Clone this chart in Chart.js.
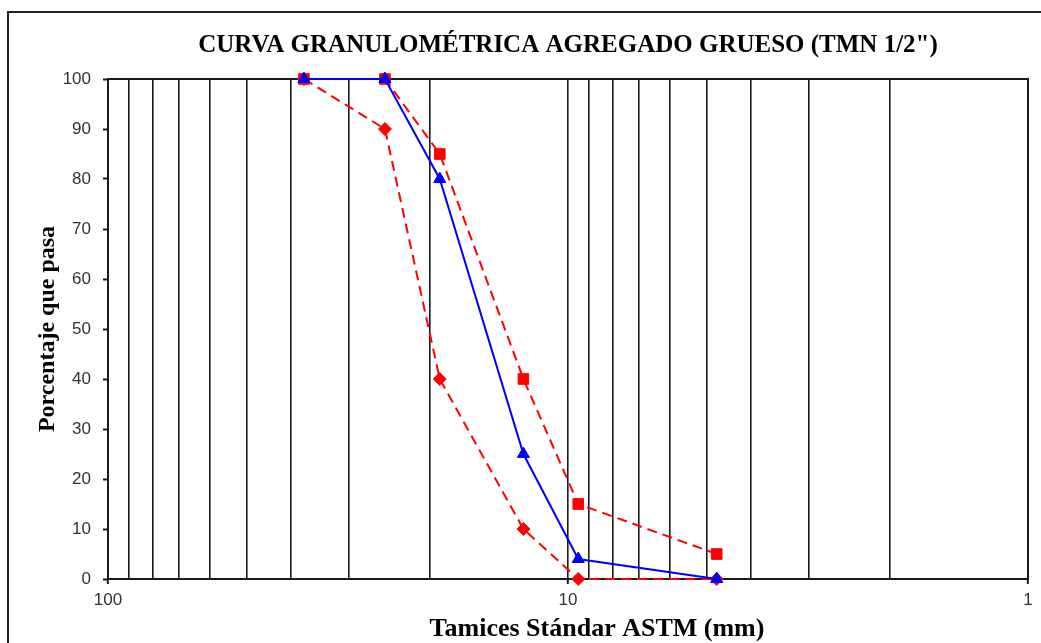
<!DOCTYPE html>
<html>
<head>
<meta charset="utf-8">
<title>Curva granulométrica</title>
<script src="https://cdn.jsdelivr.net/npm/chart.js@4.4.1/dist/chart.umd.min.js"></script>
<style>
  html, body { margin: 0; padding: 0; background: #fff; overflow: hidden; }
  #wrap { position: relative; width: 1041px; height: 643px; overflow: hidden; }
  #frame { position: absolute; left: 7px; top: 11px; width: 1100px; height: 700px; border: 2px solid #222; }
  #chart { position: absolute; left: 0; top: 0; }
</style>
</head>
<body>
<div id="wrap">
  <div id="frame"></div>
  <canvas id="chart" width="1041" height="643"></canvas>
</div>
<script>
// sieve openings (mm) and % passing
const sieveSizes = [37.5, 25, 19, 12.5, 9.5, 4.75];
const sample     = [100, 100, 80, 25, 4, 0];
const upperLimit = [100, 100, 85, 40, 15, 5];
const lowerLimit = [100, 90, 40, 10, 0, 0];
// log grid: 1..10 and 10..100, only the decades get a label
const xGridValues = [1, 2, 3, 4, 5, 6, 7, 8, 9, 10, 20, 30, 40, 50, 60, 70, 80, 90, 100];
const xLabels    = [100, 10, 1];
const yMin = 0, yMax = 100, yStep = 10;

const SERIF = '"Liberation Serif", "Times New Roman", serif';
const SANS = '"Liberation Sans", Arial, sans-serif';
const INK = '#1a1a1a';

const pts = (vals) => sieveSizes.map((x, i) => ({ x, y: vals[i] }));

// plot box + x axis caption (offset right of centre like the original)
const framePlugin = {
  id: 'frame',
  beforeDatasetsDraw(chart) {
    const { ctx, chartArea: a } = chart;
    ctx.save();
    ctx.strokeStyle = INK;
    ctx.lineWidth = 2;
    ctx.strokeRect(a.left, a.top, a.right - a.left, a.bottom - a.top);
    ctx.restore();
  },
  afterDraw(chart) {
    const { ctx, chartArea: a } = chart;
    ctx.save();
    ctx.font = 'bold 26px ' + SERIF;
    ctx.fillStyle = '#000';
    ctx.textAlign = 'center';
    ctx.textBaseline = 'middle';
    ctx.fillText('Tamices Stándar ASTM (mm)', (a.left + a.right) / 2 + 29, a.bottom + 50);
    ctx.restore();
  }
};

new Chart(document.getElementById('chart'), {
  type: 'line',
  data: {
    datasets: [
      {
        label: 'Muestra',
        data: pts(sample),
        borderColor: '#0000ff',
        backgroundColor: '#0000ff',
        borderWidth: 2,
        pointStyle: 'triangle',
        pointRadius: 7,
        pointBorderWidth: 1,
        tension: 0,
        clip: false,
      },
      {
        label: 'Límite superior',
        data: pts(upperLimit),
        borderColor: '#ff0000',
        backgroundColor: '#ff0000',
        borderWidth: 2,
        borderDash: [10, 6],
        pointStyle: 'rect',
        pointRadius: 7.5,
        pointBorderWidth: 1,
        tension: 0,
        clip: false,
      },
      {
        label: 'Límite inferior',
        data: pts(lowerLimit),
        borderColor: '#ff0000',
        backgroundColor: '#ff0000',
        borderWidth: 2,
        borderDash: [10, 6],
        pointStyle: 'rectRot',
        pointRadius: 6.5,
        pointBorderWidth: 1,
        tension: 0,
        clip: false,
      },
    ],
  },
  options: {
    responsive: false,
    animation: false,
    events: [],
    layout: { padding: { left: 0, right: 13, top: 0, bottom: 0 } },
    plugins: {
      legend: { display: false },
      tooltip: { enabled: false },
      title: {
        display: true,
        fullSize: false,
        text: 'CURVA GRANULOMÉTRICA AGREGADO GRUESO (TMN 1/2")',
        color: '#000',
        font: { family: SERIF, size: 25, weight: 'bold' },
        padding: { top: 31, bottom: 18 },
      },
    },
    scales: {
      x: {
        type: 'logarithmic',
        min: 1,
        max: 100,
        reverse: true,
        afterBuildTicks(s) {
          s.ticks = xGridValues.map((v) => ({ value: v, major: xLabels.includes(v) }));
        },
        afterFit(s) { s.height = 64; },
        grid: {
          color: INK,
          lineWidth: 1.6,
          drawTicks: true,
          tickLength: 5,
          tickWidth: 2,
          tickColor: (c) => (c.tick && xLabels.includes(c.tick.value)) ? INK : 'rgba(0,0,0,0)',
        },
        border: { display: true, color: INK, width: 2 },
        ticks: {
          autoSkip: false,
          maxRotation: 0,
          padding: 6,
          color: '#333',
          font: { family: SANS, size: 17 },
          callback: (v) => xLabels.includes(v) ? String(v) : '',
        },
      },
      y: {
        min: yMin,
        max: yMax,
        afterFit(s) { s.width = 108; },
        grid: {
          drawOnChartArea: false,
          drawTicks: true,
          tickLength: 5,
          tickWidth: 2,
          tickColor: INK,
        },
        border: { display: true, color: INK, width: 2 },
        ticks: {
          stepSize: yStep,
          padding: 12,
          color: '#333',
          font: { family: SANS, size: 17 },
        },
        title: {
          display: true,
          text: 'Porcentaje que pasa',
          color: '#000',
          font: { family: SERIF, size: 24, weight: 'bold' },
          padding: { top: 33, bottom: 0 },
        },
      },
    },
  },
  plugins: [framePlugin],
});
</script>
</body>
</html>
